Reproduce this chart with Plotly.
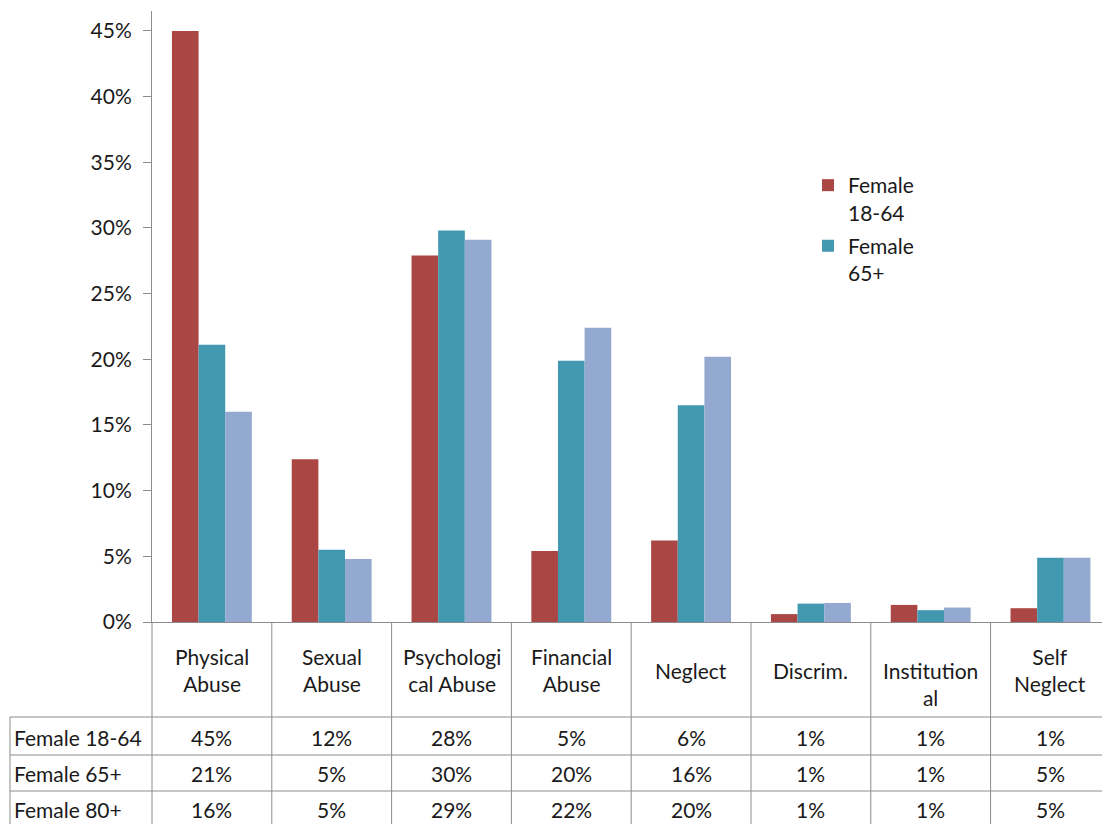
import plotly.graph_objects as go

categories = ["Physical<br>Abuse", "Sexual<br>Abuse", "Psychologi<br>cal Abuse", "Financial<br>Abuse",
              "Neglect", "Discrim.", "Institution<br>al", "Self<br>Neglect"]
series_names = ["Female 18-64", "Female 65+", "Female 80+"]
legend_names = ["Female<br>18-64", "Female<br>65+", "Female<br>80+"]
female_18_64 = [45.0, 12.4, 27.9, 5.4, 6.2, 0.6, 1.3, 1.05]
female_65 = [21.1, 5.5, 29.8, 19.9, 16.5, 1.4, 0.9, 4.9]
female_80 = [16.0, 4.8, 29.1, 22.4, 20.2, 1.45, 1.1, 4.9]
table_18_64 = ["45%", "12%", "28%", "5%", "6%", "1%", "1%", "1%"]
table_65 = ["21%", "5%", "30%", "20%", "16%", "1%", "1%", "5%"]
table_80 = ["16%", "5%", "29%", "22%", "20%", "1%", "1%", "5%"]
tick_vals = [0, 5, 10, 15, 20, 25, 30, 35, 40, 45]
tick_text = ["0%", "5%", "10%", "15%", "20%", "25%", "30%", "35%", "40%", "45%"]

colors = ["#AA4643", "#4198AF", "#93A9CF"]
FONT = "Lato"
FS = 21
W, H = 1102, 824
ML, MR, MT, MB = 152, 0, 11, 202
PW, PH = W - ML - MR, H - MT - MB
XMIN, XMAX = -0.5, 7.43
YMAX = 46.52
GRID = "#8C8C8C"
TXT = "#1a1a1a"

def ypaper(py):
    return (H - MB - py) / PH

def xpaper(px):
    return (px - ML) / PW

def xcat_paper(k):
    return (k - XMIN) / (XMAX - XMIN)

fig = go.Figure()
xs = list(range(len(categories)))
for i, vals in enumerate([female_18_64, female_65, female_80]):
    fig.add_trace(go.Bar(x=xs, y=vals, name=legend_names[i], marker_color=colors[i],
                         marker_line_width=0, legendgroup=str(i), showlegend=(i < 2)))

shapes = []
for k in range(len(categories) + 1):
    xp = xcat_paper(k - 0.5)
    shapes.append(dict(type="line", xref="paper", yref="paper", x0=xp, x1=xp,
                       y0=0, y1=ypaper(830), line=dict(color=GRID, width=1)))
shapes.append(dict(type="line", xref="paper", yref="paper", x0=xpaper(10), x1=xpaper(10),
                   y0=ypaper(717), y1=ypaper(830), line=dict(color=GRID, width=1)))
for py in [717, 755, 791, 827]:
    shapes.append(dict(type="line", xref="paper", yref="paper", x0=xpaper(10), x1=1.01,
                       y0=ypaper(py), y1=ypaper(py), line=dict(color=GRID, width=1)))

annotations = []
for k, lab in enumerate(categories):
    yc = 684 if lab.startswith("Institution") else 670
    annotations.append(dict(x=k, y=ypaper(yc), xref="x", yref="paper", text=lab, showarrow=False,
                            xanchor="center", yanchor="middle", align="center",
                            font=dict(family=FONT, size=FS, color=TXT)))
row_y = [737, 773, 809]
for r, (nm, row) in enumerate(zip(series_names, [table_18_64, table_65, table_80])):
    annotations.append(dict(x=xpaper(12), y=ypaper(row_y[r]), xref="paper", yref="paper", text=nm,
                            showarrow=False, xanchor="left", yanchor="middle",
                            font=dict(family=FONT, size=FS, color=TXT)))
    for k, v in enumerate(row):
        annotations.append(dict(x=k, y=ypaper(row_y[r]), xref="x", yref="paper", text=v,
                                showarrow=False, xanchor="center", yanchor="middle",
                                font=dict(family=FONT, size=FS, color=TXT)))

fig.update_layout(
    width=W, height=H, margin=dict(l=ML, r=MR, t=MT, b=MB, pad=0),
    plot_bgcolor="white", paper_bgcolor="white",
    barmode="group", bargap=0.333, bargroupgap=0,
    font=dict(family=FONT, size=FS, color=TXT),
    xaxis=dict(range=[XMIN, XMAX], showticklabels=False, showgrid=False, zeroline=False,
               showline=True, linecolor=GRID, linewidth=1, ticks=""),
    yaxis=dict(range=[0, YMAX], tickvals=tick_vals, ticktext=tick_text, showgrid=False,
               zeroline=False, showline=True, linecolor=GRID, linewidth=1, ticks="outside",
               ticklen=8, tickcolor=GRID, tickfont=dict(family=FONT, size=FS, color=TXT),
               ticklabelstandoff=7),
    legend=dict(x=xpaper(808), y=ypaper(165), xanchor="left", yanchor="top",
                bgcolor="rgba(0,0,0,0)", font=dict(family=FONT, size=FS, color=TXT),
                tracegroupgap=3, valign="top"),
    shapes=shapes, annotations=annotations,
)
fig.write_html("out.html")
